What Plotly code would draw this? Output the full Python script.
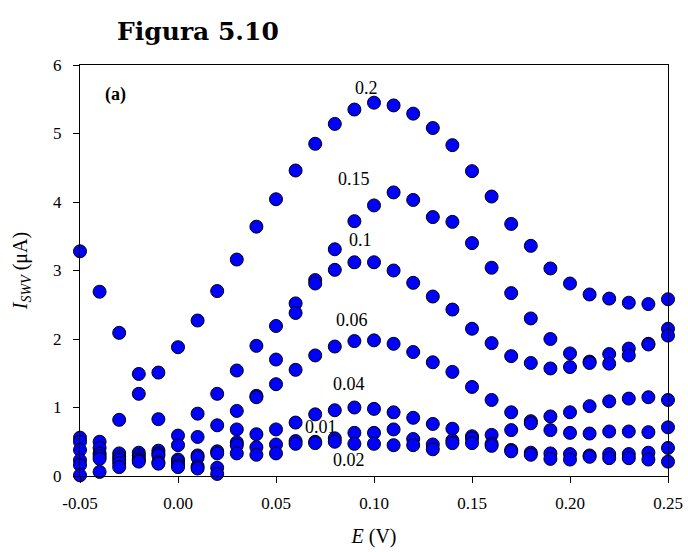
import plotly.graph_objects as go

# Potential axis (V)
potential = [-0.05, -0.04, -0.03, -0.02, -0.01, 0.00, 0.01, 0.02, 0.03, 0.04, 0.05,
             0.06, 0.07, 0.08, 0.09, 0.10, 0.11, 0.12, 0.13, 0.14, 0.15, 0.16,
             0.17, 0.18, 0.19, 0.20, 0.21, 0.22, 0.23, 0.24, 0.25]

# Square-wave voltammetric currents (uA), one list per series label
i_020 = [3.28, 2.69, 2.09, 1.49, 1.51, 1.88, 2.27, 2.70, 3.16, 3.64, 4.04, 4.46, 4.85, 5.14, 5.35, 5.45,
         5.41, 5.29, 5.08, 4.83, 4.45, 4.08, 3.68, 3.36, 3.03, 2.81, 2.65, 2.59, 2.53, 2.51, 2.58]
i_015 = [0.56, 0.50, 0.82, 1.20, 0.83, 0.59, 0.91, 1.20, 1.54, 1.90, 2.19, 2.52, 2.86, 3.31, 3.72, 3.95,
         4.14, 4.03, 3.78, 3.71, 3.40, 3.04, 2.67, 2.30, 2.00, 1.79, 1.67, 1.78, 1.86, 1.93, 2.15]
i_010 = [0.50, 0.41, 0.33, 0.34, 0.37, 0.45, 0.57, 0.74, 0.95, 1.17, 1.70, 2.38, 2.81, 3.01, 3.12, 3.12,
         3.00, 2.82, 2.62, 2.43, 2.15, 1.94, 1.75, 1.65, 1.57, 1.59, 1.65, 1.64, 1.76, 1.92, 2.05]
i_006 = [0.38, 0.33, 0.28, 0.30, 0.33, 0.24, 0.30, 0.36, 0.68, 1.15, 1.34, 1.55, 1.76, 1.89, 1.97, 1.98,
         1.93, 1.81, 1.66, 1.52, 1.30, 1.11, 0.93, 0.80, 0.87, 0.93, 1.02, 1.09, 1.13, 1.15, 1.11]
i_004 = [0.23, 0.29, 0.24, 0.26, 0.30, 0.21, 0.27, 0.33, 0.49, 0.61, 0.68, 0.78, 0.90, 0.96, 1.00, 0.98,
         0.93, 0.85, 0.76, 0.69, 0.58, 0.60, 0.67, 0.77, 0.67, 0.63, 0.62, 0.65, 0.65, 0.64, 0.71]
i_001 = [0.16, 0.25, 0.19, 0.23, 0.20, 0.16, 0.14, 0.12, 0.45, 0.42, 0.46, 0.51, 0.50, 0.55, 0.63, 0.63,
         0.68, 0.54, 0.46, 0.52, 0.55, 0.47, 0.38, 0.34, 0.33, 0.32, 0.30, 0.32, 0.32, 0.34, 0.41]
i_002 = [0.01, 0.06, 0.13, 0.21, 0.18, 0.13, 0.11, 0.03, 0.33, 0.31, 0.33, 0.47, 0.48, 0.50, 0.47, 0.47,
         0.45, 0.45, 0.39, 0.48, 0.48, 0.44, 0.36, 0.31, 0.25, 0.24, 0.28, 0.26, 0.26, 0.24, 0.21]

series_names = ["0.2", "0.15", "0.1", "0.06", "0.04", "0.01", "0.02"]
series_values = [i_020, i_015, i_010, i_006, i_004, i_001, i_002]

# Where each series label sits (E, I)
label_x = [0.096, 0.090, 0.093, 0.089, 0.087, 0.073, 0.087]
label_y = [5.66, 4.34, 3.44, 2.28, 1.34, 0.71, 0.23]

x_tickvals = [-0.05, 0.00, 0.05, 0.10, 0.15, 0.20, 0.25]
x_ticktext = ["-0.05", "0.00", "0.05", "0.10", "0.15", "0.20", "0.25"]
y_tickvals = [0, 1, 2, 3, 4, 5, 6]

serif = "Liberation Serif"

fig = go.Figure()
for name, vals in zip(series_names, series_values):
    fig.add_trace(go.Scatter(
        x=potential, y=vals, mode="markers", name=name, cliponaxis=False,
        marker=dict(size=13, color="#0000FF", line=dict(color="black", width=1)),
        showlegend=False,
    ))

for name, lx, ly in zip(series_names, label_x, label_y):
    fig.add_annotation(x=lx, y=ly, text=name, showarrow=False,
                       font=dict(family=serif, size=18, color="black"))

fig.add_annotation(x=-0.0317, y=5.57, text="<b>(a)</b>", showarrow=False,
                   font=dict(family=serif, size=18, color="black"))

fig.add_annotation(xref="paper", yref="paper", x=0.2, y=1.082, xanchor="center", yanchor="middle",
                   text="<b>Figura 5.10</b>", showarrow=False,
                   font=dict(family="DejaVu Serif", size=25, color="black"))

axis_common = dict(showline=True, linecolor="black", linewidth=1, mirror=True,
                   ticks="outside", ticklen=6, tickcolor="black", showgrid=False,
                   zeroline=False, automargin=False,
                   tickfont=dict(family=serif, size=17, color="black"))

fig.update_xaxes(range=[-0.05, 0.25], tickvals=x_tickvals, ticktext=x_ticktext,
                 ticklabelstandoff=6,
                 title=dict(text="<i>E</i> (V)", font=dict(family=serif, size=20, color="black"),
                            standoff=16),
                 **axis_common)
fig.update_yaxes(range=[0, 6], tickvals=y_tickvals, ticklabelstandoff=8,
                 title=dict(text="<i>I</i><sub><i>SWV</i></sub> (\u03bcA)",
                            font=dict(family=serif, size=20, color="black"), standoff=20),
                 **axis_common)

fig.update_layout(
    width=688, height=552,
    margin=dict(l=80, r=20, t=65, b=76),
    paper_bgcolor="white", plot_bgcolor="white",
)

fig.write_html("out.html")
